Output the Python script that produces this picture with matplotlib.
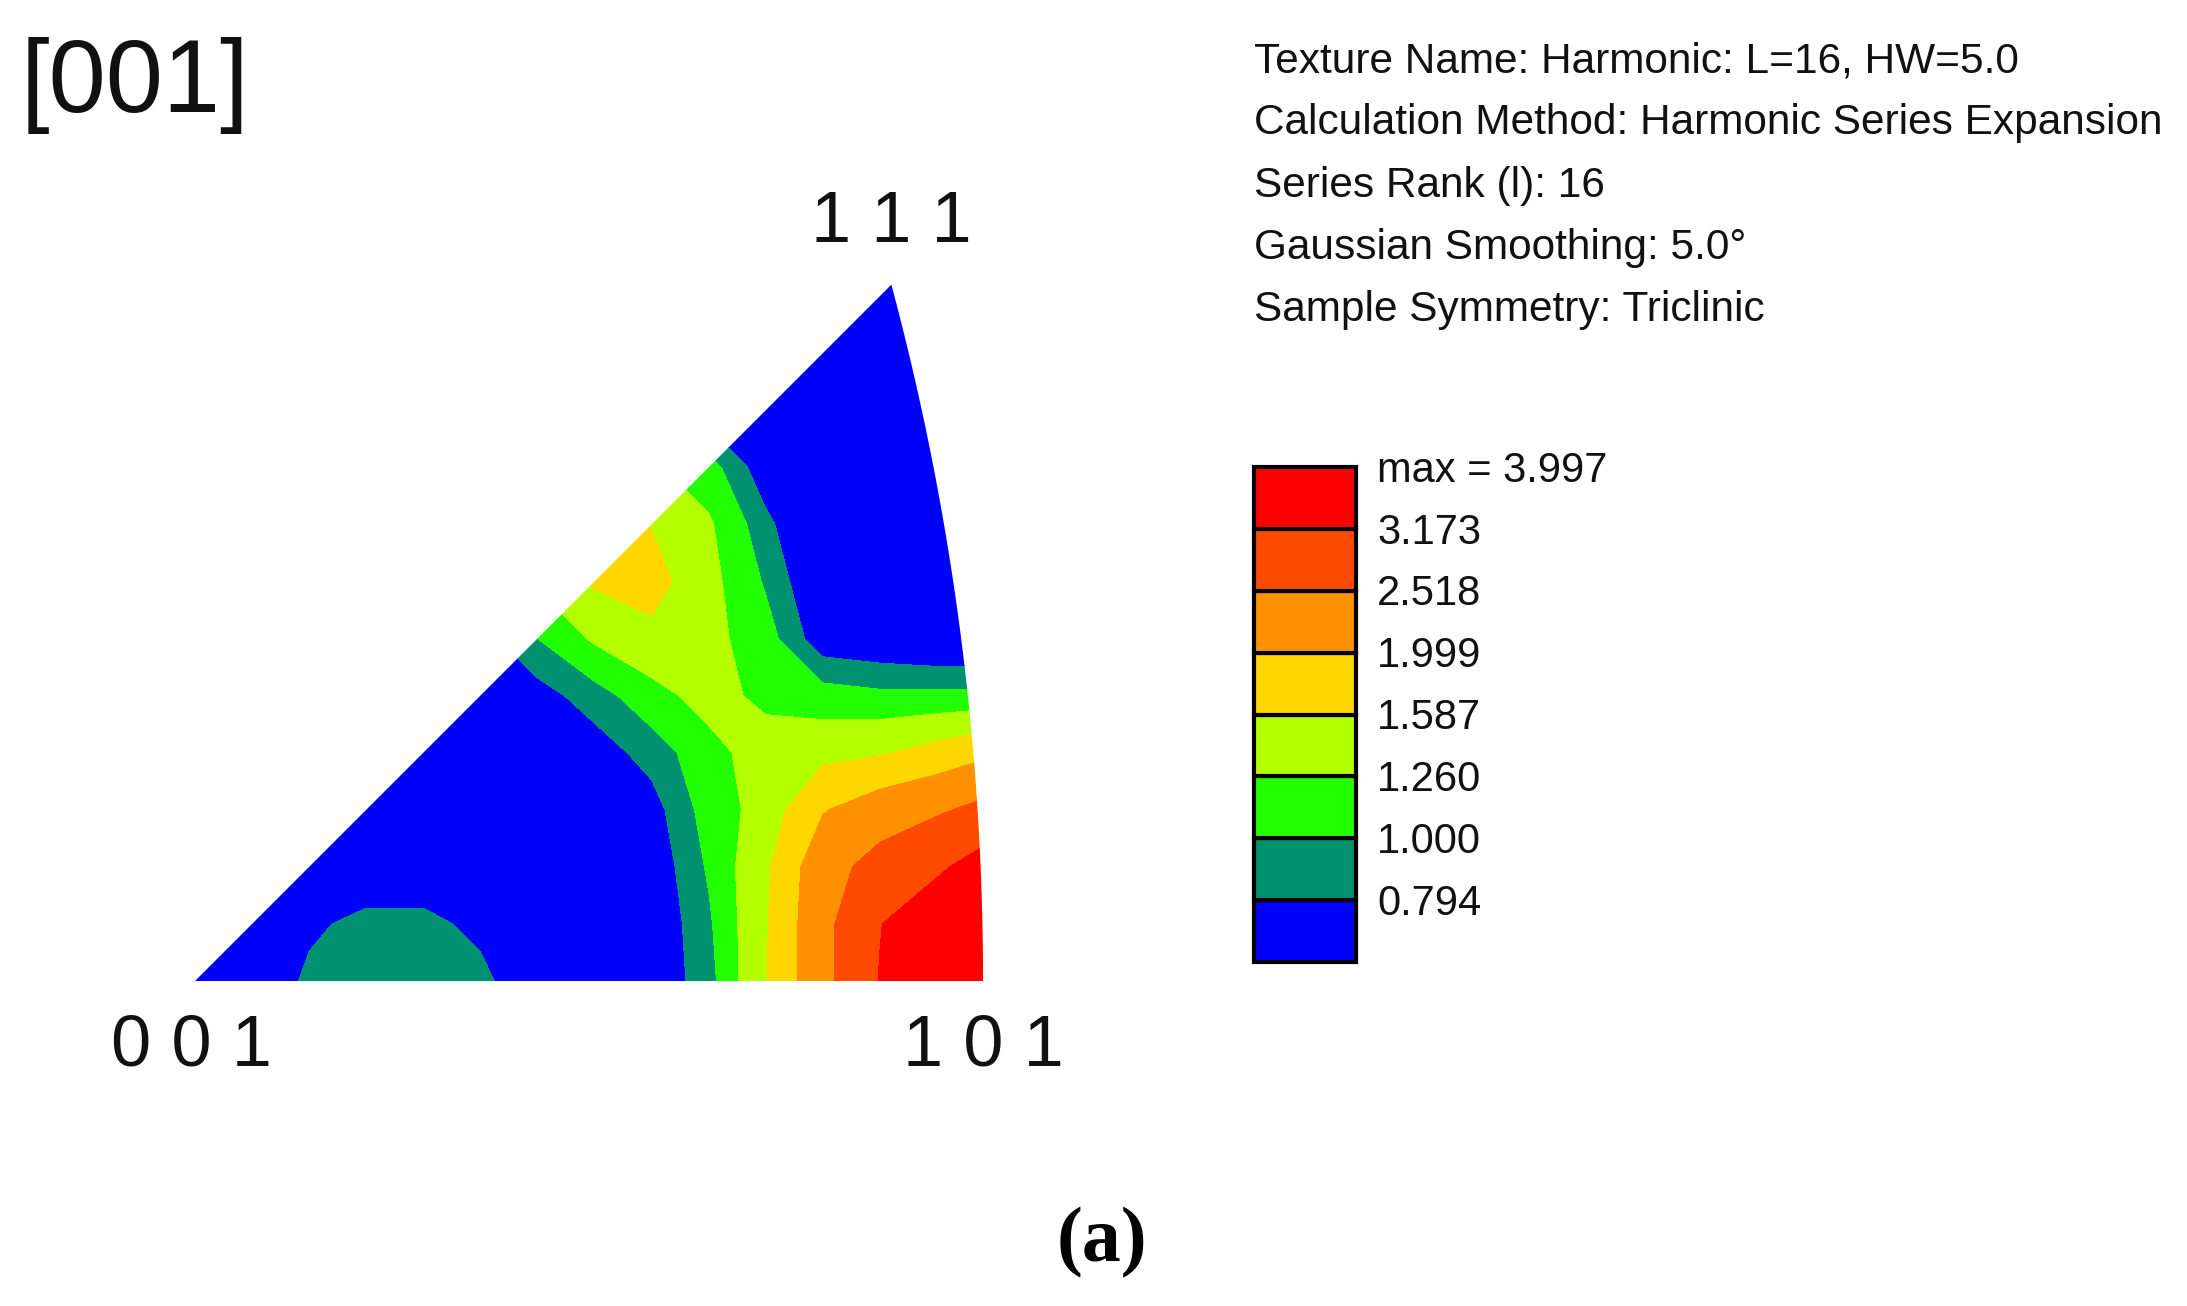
import numpy as np
import matplotlib.pyplot as plt
from matplotlib.path import Path
from matplotlib.patches import PathPatch, Rectangle

plt.rcParams['font.family'] = ['Liberation Sans', 'DejaVu Sans']

# contour levels and band colours (lowest band first)
levels = [0.0, 0.794, 1.000, 1.260, 1.587, 1.999, 2.518, 3.173, 3.997]
band_colors = ['#0000ff', '#009170', '#22ff00', '#b4ff00',
               '#ffd700', '#ff9100', '#ff4b00', '#ff0000']

x_nodes = np.linspace(0, 0.42, 15)
y_nodes = np.linspace(0, 0.39, 14)
intensity = [
    [0.60, 0.68, 0.82, 0.90, 0.90, 0.83, 0.68, 0.58, 0.62, 0.91, 1.57, 2.34, 3.20, 3.70, 3.95],
    [0.68, 0.65, 0.77, 0.83, 0.83, 0.76, 0.64, 0.58, 0.60, 0.96, 1.55, 2.35, 3.15, 3.70, 3.95],
    [0.82, 0.77, 0.68, 0.70, 0.70, 0.66, 0.60, 0.56, 0.63, 1.03, 1.52, 2.30, 2.72, 3.05, 3.60],
    [0.90, 0.83, 0.70, 0.60, 0.55, 0.53, 0.53, 0.58, 0.70, 1.10, 1.38, 1.97, 2.25, 2.45, 2.70],
    [0.90, 0.83, 0.70, 0.55, 0.60, 0.55, 0.57, 0.68, 0.88, 1.15, 1.42, 1.48, 1.55, 1.72, 1.95],
    [0.83, 0.76, 0.66, 0.53, 0.55, 0.55, 0.70, 0.90, 1.15, 1.38, 1.18, 1.10, 1.05, 1.05, 1.05],
    [0.68, 0.64, 0.60, 0.53, 0.57, 0.70, 1.00, 1.30, 1.50, 1.35, 1.10, 0.65, 0.60, 0.55, 0.55],
    [0.58, 0.58, 0.56, 0.58, 0.68, 0.90, 1.30, 1.63, 1.72, 1.35, 0.97, 0.55, 0.50, 0.50, 0.50],
    [0.62, 0.60, 0.63, 0.70, 0.88, 1.15, 1.50, 1.72, 1.57, 1.30, 0.85, 0.50, 0.45, 0.45, 0.45],
    [0.91, 0.96, 1.03, 1.10, 1.15, 1.38, 1.35, 1.35, 1.30, 1.10, 0.65, 0.50, 0.45, 0.45, 0.45],
    [1.57, 1.55, 1.52, 1.38, 1.42, 1.18, 1.10, 0.97, 0.85, 0.65, 0.55, 0.50, 0.45, 0.45, 0.45],
    [2.34, 2.35, 2.30, 1.97, 1.48, 1.10, 0.65, 0.55, 0.50, 0.50, 0.50, 0.50, 0.45, 0.45, 0.45],
    [3.20, 3.15, 2.72, 2.25, 1.55, 1.05, 0.60, 0.50, 0.45, 0.45, 0.45, 0.45, 0.45, 0.45, 0.45],
    [3.70, 3.70, 3.05, 2.45, 1.72, 1.05, 0.55, 0.50, 0.45, 0.45, 0.45, 0.45, 0.45, 0.45, 0.45],
]

info_lines = [
    "Texture Name: Harmonic: L=16, HW=5.0",
    "Calculation Method: Harmonic Series Expansion",
    "Series Rank (l): 16",
    "Gaussian Smoothing: 5.0\u00b0",
    "Sample Symmetry: Triclinic",
]

W, H = 2187, 1306
fig = plt.figure(figsize=(W / 100, H / 100), dpi=100)
fig.patch.set_facecolor('white')

# main triangle axes: 001 at pixel (195, 981), 1902.5 px per unit
scale = 1902.5
ax = fig.add_axes([(195 - 0.1 * scale) / W, (H - 981 - 0.1 * scale) / H,
                   0.6 * scale / W, 0.55 * scale / H])
ax.set_xlim(-0.1, 0.5)
ax.set_ylim(-0.1, 0.45)
ax.axis('off')

# standard triangle 001-101-111 in stereographic projection
t = np.linspace(0, np.radians(15), 80)
arc = np.column_stack([-1 + np.sqrt(2) * np.cos(t), np.sqrt(2) * np.sin(t)])
verts = np.vstack([[[0, 0]], arc, [[0, 0]]])
tri = PathPatch(Path(verts, closed=True), transform=ax.transData,
                facecolor='none', edgecolor='none')
ax.add_patch(tri)

X, Y = np.meshgrid(x_nodes, y_nodes)
cs = ax.contourf(X, Y, np.array(intensity), levels=levels, colors=band_colors,
                 antialiased=False)
cs.set_clip_path(tri)

lab_kw = dict(fontsize=52, ha='center', va='center', color='#111111')
ax.text(0.366, 0.3979, "1 1 1", **lab_kw)
ax.text(-0.002, -0.0347, "0 0 1", **lab_kw)
ax.text(0.4142, -0.0347, "1 0 1", **lab_kw)

fig.text(21 / W, 1 - 86 / H, "[001]", fontsize=74, ha='left', va='center',
         color='#111111')

for k, line in enumerate(info_lines):
    fig.text(1254 / W, 1 - (72 + 62.3 * k) / H, line, fontsize=30.5,
             ha='left', va='baseline', color='#111111')

# legend boxes
lx0, lx1, ly0, ly1 = 1254, 1356, 467, 962
lax = fig.add_axes([lx0 / W, 1 - ly1 / H, (lx1 - lx0) / W, (ly1 - ly0) / H])
lax.set_xlim(0, 1)
lax.set_ylim(0, len(band_colors))
lax.axis('off')
for k, c in enumerate(band_colors):
    lax.add_patch(Rectangle((0, k), 1, 1, facecolor=c, edgecolor='black',
                            linewidth=3, clip_on=False))
for k in range(1, len(levels)):
    txt = "%.3f" % levels[k]
    if k == len(levels) - 1:
        txt = "max = " + txt
    lax.text((1377 - lx0) / (lx1 - lx0), k - 0.06, txt, fontsize=30,
             ha='left', va='center', color='#111111')

fig.text(1102 / W, 1 - 1243 / H, "(a)", fontsize=56, fontweight='bold',
         family='Liberation Serif', ha='center', va='center', color='black')

fig.savefig('out.png', dpi=100, facecolor='white')
